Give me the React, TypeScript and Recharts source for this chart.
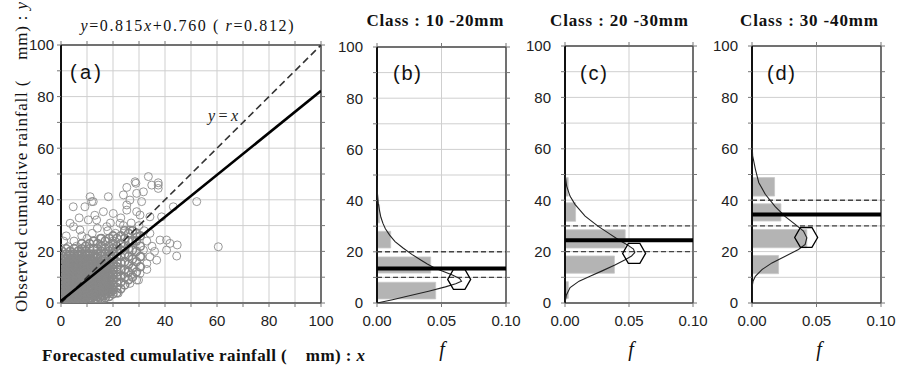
import React from 'react';
import { ScatterChart, Scatter, XAxis, YAxis, CartesianGrid, ReferenceArea } from 'recharts';

const SANS = '"Liberation Sans", Arial, Helvetica, sans-serif';
const SERIF = '"Liberation Serif", "Times New Roman", Times, serif';

// ---------- axis ticks ----------
const Y_TICKS = [0, 10, 20, 30, 40, 50, 60, 70, 80, 90, 100];
const A_X_TICKS = [0, 10, 20, 30, 40, 50, 60, 70, 80, 90, 100];
const F_TICKS = [0, 0.05, 0.1];

// ---------- panel (a) : scatter ----------
// dense core, rows of [forecast x, observed y values]
const CORE_ROWS: [number, number[]][] = [
  [0.5, [0.5, 2, 3.5, 5, 6.5, 8, 9.5, 11, 12.5, 14, 16, 18, 20]],
  [2, [0.5, 2, 3.5, 5, 6.5, 8, 9.5, 11, 12.5, 14, 15.5, 17, 19, 21]],
  [3.5, [0.5, 2, 3.5, 5, 6.5, 8, 9.5, 11, 12.5, 14, 15.5, 17, 18.5, 20]],
  [5, [0.5, 2, 3.5, 5, 6.5, 8, 9.5, 11, 12.5, 14, 15.5, 17, 19, 21]],
  [6.5, [0.5, 2, 3.5, 5, 6.5, 8, 9.5, 11, 12.5, 14, 15.5, 17, 18.5, 20]],
  [8, [0.5, 2, 3.5, 5, 6.5, 8, 9.5, 11, 12.5, 14, 15.5, 17, 19, 21, 23]],
  [9.5, [0.5, 2, 3.5, 5, 6.5, 8, 9.5, 11, 12.5, 14, 15.5, 17, 18.5, 20, 22]],
  [11, [0.5, 2, 3.5, 5, 6.5, 8, 9.5, 11, 12.5, 14, 15.5, 17, 19, 21, 23]],
  [12.5, [1, 2.5, 4, 5.5, 7, 8.5, 10, 11.5, 13, 14.5, 16, 17.5, 19, 21, 24]],
  [14, [1, 2.5, 4, 5.5, 7, 8.5, 10, 11.5, 13, 14.5, 16, 17.5, 19, 21, 23]],
  [15.5, [1.5, 3, 4.5, 6, 7.5, 9, 10.5, 12, 13.5, 15, 16.5, 18, 20, 22, 25]],
  [17, [2, 3.5, 5, 6.5, 8, 9.5, 11, 12.5, 14, 15.5, 17, 19, 21, 24]],
  [18.5, [2.5, 4, 5.5, 7, 8.5, 10, 11.5, 13, 14.5, 16, 18, 20, 22, 25]],
  [20, [3.5, 5, 7, 9, 11, 13, 15, 17, 19, 21, 23, 26]],
  [21.5, [4, 6, 8, 10, 12, 14, 16, 18, 20, 22, 25]],
  [23, [5.5, 8, 10.5, 13, 15.5, 18, 20.5, 23, 26]],
  [24.5, [7, 10, 13, 16, 19, 22, 25, 28]],
  [26, [9, 12, 15, 18, 21, 24, 27]],
  [27.5, [10, 13.5, 17, 20.5, 24, 28]],
  [29, [12, 16, 20, 24, 27]],
  [30.5, [14, 18, 22, 26]],
];
// staggered second layer in the densest part
const CORE_ROWS_2: [number, number[]][] = [
  [1.25, [1.25, 2.75, 4.25, 5.75, 7.25, 8.75, 10.25, 11.75, 13.25, 14.75, 17]],
  [2.75, [1.25, 2.75, 4.25, 5.75, 7.25, 8.75, 10.25, 11.75, 13.25, 14.75, 16.25, 18]],
  [4.25, [1.25, 2.75, 4.25, 5.75, 7.25, 8.75, 10.25, 11.75, 13.25, 14.75, 16.25, 18]],
  [5.75, [1.25, 2.75, 4.25, 5.75, 7.25, 8.75, 10.25, 11.75, 13.25, 14.75, 16.25, 18]],
  [7.25, [1.25, 2.75, 4.25, 5.75, 7.25, 8.75, 10.25, 11.75, 13.25, 14.75, 16.25, 18.5]],
  [8.75, [1.25, 2.75, 4.25, 5.75, 7.25, 8.75, 10.25, 11.75, 13.25, 14.75, 16.25, 18]],
  [10.25, [1.25, 2.75, 4.25, 5.75, 7.25, 8.75, 10.25, 11.75, 13.25, 14.75, 16.25, 18.5]],
  [11.75, [1.75, 3.25, 4.75, 6.25, 7.75, 9.25, 10.75, 12.25, 13.75, 15.25, 17]],
  [13.25, [1.75, 3.25, 4.75, 6.25, 7.75, 9.25, 10.75, 12.25, 13.75, 15.25, 17.5]],
  [14.75, [2.25, 3.75, 5.25, 6.75, 8.25, 9.75, 11.25, 12.75, 14.25, 16]],
  [16.25, [2.75, 4.25, 5.75, 7.25, 8.75, 10.25, 11.75, 13.25, 15]],
  [17.75, [3.5, 5, 6.5, 8, 9.5, 11, 12.5, 14, 16]],
  [19.25, [4.5, 6, 8, 10, 12, 14, 16, 18]],
];
// sparse outer points
const FRINGE: [number, number][] = [
  [28.5, 47], [34.9, 45.7], [37.4, 45.7], [37.4, 44.4], [29.1, 42.5], [18.2, 41.2], [11.2, 41.2],
  [4.7, 37.3], [25.3, 38], [29.1, 35.4], [52.2, 39.3], [43.2, 37.3], [3.5, 30.9], [10.5, 32.2],
  [2.8, 21.8], [44.7, 22.5], [44.5, 18.2], [40.6, 24.4], [60.5, 21.8], [29.1, 8.9], [22, 3.8],
  [33.6, 49], [31.7, 43.1], [24, 41.9], [9.2, 37.3], [11.8, 39.3], [28.8, 46.4], [37.4, 46.6],
  [25.3, 44.8], [12.4, 39.3], [26.5, 39.9], [31, 39.3], [16.3, 35.4], [20.1, 34.7], [25.3, 36],
  [30.4, 34.1], [34.2, 33.4], [38.7, 33.4], [4.8, 29.6], [7.3, 28.3], [13.7, 32.2], [17.6, 29.6],
  [22.7, 30.9], [26.5, 28.3], [29.1, 25.6], [34.2, 27], [38.1, 24.4], [41.9, 23.1], [40.6, 20.5],
  [34.2, 17.9], [36.8, 16.6], [31.7, 20.5], [33, 15.3], [30.4, 11.5], [29.8, 8.9], [26.5, 7.6],
  [18.8, 5.1], [0.9, 17.9], [5, 24], [8, 26], [12, 27], [15, 25], [18, 28], [21, 27], [24, 30],
  [27, 31], [30, 30], [32, 28], [33, 24], [35, 22], [36, 20], [31, 18], [33, 13], [28, 14],
  [27, 11], [25, 12], [6, 22], [10, 25], [14, 29], [19, 31], [23, 33], [13, 34], [7, 33], [2, 26],
  [1, 24], [16, 22], [20, 24], [26, 24],
];
const REG_LINE = [{ x: 0, y: 0.76 }, { x: 100, y: 82.26 }];
const IDENTITY_LINE = [{ x: 0, y: 0 }, { x: 100, y: 100 }];

// ---------- panels (b)-(d) : histograms [lo, hi, f] ----------
const B_BARS: [number, number, number][] = [[1.6, 8.1, 0.0455], [11.7, 18, 0.0416], [21.5, 28, 0.0106], [31.3, 38.4, 0.002]];
const C_BARS: [number, number, number][] = [[1.8, 8.3, 0.0026], [11.6, 18.3, 0.0386], [21.4, 28.5, 0.047], [31.8, 39, 0.0083], [41.6, 48.8, 0.0025]];
const D_BARS: [number, number, number][] = [[11.4, 18.5, 0.0206], [21.5, 28.6, 0.0425], [31.9, 38.6, 0.0224], [41.6, 48.8, 0.0175]];

// fitted density curves [f, y]
const B_CURVE: [number, number][] = [
  [0, 0], [0.012, 1.3], [0.025, 2.8], [0.04, 4.6], [0.053, 6.3], [0.061, 7.5], [0.0655, 8.5], [0.064, 9.6],
  [0.058, 11], [0.051, 12.4], [0.0447, 13.7], [0.039, 15.2], [0.0333, 17], [0.027, 19], [0.0202, 21.5],
  [0.014, 24], [0.0098, 26.5], [0.0065, 29], [0.0047, 31], [0.003, 33.5], [0.002, 36], [0.001, 39],
  [0.0003, 43], [0, 48],
];
const C_CURVE: [number, number][] = [
  [0, 0], [0.001, 3], [0.004, 6], [0.011, 8.5], [0.02, 10.5], [0.029, 12.5], [0.039, 14.8], [0.047, 16.8],
  [0.052, 18.3], [0.0545, 19.6], [0.0535, 21], [0.0485, 22.7], [0.0418, 24.6], [0.034, 27.2], [0.026, 29.8],
  [0.0157, 33.8], [0.0078, 38.4], [0.0039, 41.6], [0.0013, 45.5], [0, 50],
];
const D_CURVE: [number, number][] = [
  [0, 0], [0, 6], [0.0008, 8.5], [0.0026, 10.4], [0.0077, 13], [0.0155, 15.6], [0.0258, 18.2], [0.036, 20.8],
  [0.0412, 22.8], [0.0425, 25.4], [0.0399, 28], [0.0335, 30.6], [0.0258, 33.6], [0.018, 37.5], [0.0103, 42.3],
  [0.0052, 46.9], [0.0026, 52.1], [0.0005, 57.3], [0, 63],
];
// hexagon markers [f, y], observed mean, class bounds
const B_MARK: [number, number] = [0.0637, 9.2];
const C_MARK: [number, number] = [0.054, 19.3];
const D_MARK: [number, number] = [0.042, 25.5];
const B_MEAN = 13.5, C_MEAN = 24.4, D_MEAN = 34.4;
const B_CLASS: [number, number] = [10, 20];
const C_CLASS: [number, number] = [20, 30];
const D_CLASS: [number, number] = [30, 40];

// ---------- derived tables ----------
const rowsToPoints = (rows: [number, number[]][]) => rows.flatMap(([x, ys]) => ys.map((y) => ({ x, y })));
const coreData = [...rowsToPoints(CORE_ROWS), ...rowsToPoints(CORE_ROWS_2)];
const fringeData = FRINGE.map(([x, y]) => ({ x, y }));
const toFY = (arr: [number, number][]) => arr.map(([f, y]) => ({ f, y }));
const hline = (y: number) => [{ f: F_TICKS[0], y }, { f: F_TICKS[2], y }];

// ---------- shapes ----------
const NoDot = () => <g />;
const OpenCircle = (p: any) => (
  <circle cx={p.cx} cy={p.cy} r={4} fill="none" stroke="#8c8c8c" strokeWidth={0.9} />
);
const CoreCircle = (p: any) => (
  <circle cx={p.cx} cy={p.cy} r={4} fill="none" stroke="#888" strokeWidth={1.6} />
);
const Hexagon = (p: any) => {
  const r = 11.5;
  const pts = [0, 1, 2, 3, 4, 5]
    .map((i) => {
      const a = (Math.PI / 3) * i;
      return `${p.cx + r * Math.cos(a)},${p.cy + r * Math.sin(a)}`;
    })
    .join(' ');
  return <polygon points={pts} fill="none" stroke="#000" strokeWidth={1.3} />;
};

const FRAME = { stroke: '#4a4a4a', strokeWidth: 1.5 };
const LEFT_FRAME = { stroke: '#111', strokeWidth: 2 };
const TICKLINE = { stroke: '#777', strokeWidth: 1 };
const TICK_STYLE = { fill: '#222', fontSize: 15, fontFamily: SANS };
const fmt20 = (v: number) => (v % 20 === 0 ? String(v) : '');
const fmtF = (v: number) => v.toFixed(2);
const blank = () => '';

type PanelProps = {
  plotLeft: number;
  plotRight: number;
  plotTop: number;
  xKey: string;
  xDomain: [number, number];
  xTicks: number[];
  xFmt: (v: number) => string;
  yTickMargin: number;
  children?: React.ReactNode;
};

function Panel(p: PanelProps) {
  const axisW = 60, rightW = 28, bottomH = 30, plotBottom = 303, H = 374;
  const left = p.plotLeft - axisW;
  const width = p.plotRight - p.plotLeft + axisW + rightW;
  return (
    <div style={{ position: 'absolute', left, top: 0, width, height: H }}>
      <ScatterChart width={width} height={H} margin={{ top: 0, right: 0, bottom: H - plotBottom - bottomH, left: 0 }}>
        <CartesianGrid stroke="#cfcfcf" strokeWidth={1} />
        <XAxis xAxisId={0} type="number" dataKey={p.xKey} domain={p.xDomain} ticks={p.xTicks} interval={0}
          tickFormatter={p.xFmt} height={bottomH} allowDataOverflow axisLine={FRAME} tickLine={TICKLINE}
          tickSize={4} tickMargin={8} tick={TICK_STYLE} />
        <XAxis xAxisId="t" orientation="top" type="number" dataKey={p.xKey} domain={p.xDomain} ticks={p.xTicks}
          interval={0} tickFormatter={blank} height={p.plotTop} allowDataOverflow axisLine={FRAME}
          tickLine={TICKLINE} tickSize={4} tick={TICK_STYLE} />
        <YAxis yAxisId={0} type="number" dataKey="y" domain={[0, 100]} ticks={Y_TICKS} interval={0}
          tickFormatter={fmt20} width={axisW} allowDataOverflow axisLine={LEFT_FRAME} tickLine={TICKLINE}
          tickSize={4} tickMargin={p.yTickMargin} tick={TICK_STYLE} />
        <YAxis yAxisId="r" orientation="right" type="number" dataKey="y" domain={[0, 100]} ticks={Y_TICKS}
          interval={0} tickFormatter={blank} width={rightW} allowDataOverflow axisLine={FRAME}
          tickLine={TICKLINE} tickSize={4} tick={TICK_STYLE} />
        {p.children}
      </ScatterChart>
    </div>
  );
}

function DistPanel(props: {
  plotLeft: number; plotRight: number; plotTop: number;
  bars: [number, number, number][]; curve: [number, number][]; mark: [number, number];
  mean: number; cls: [number, number];
}) {
  return (
    <Panel plotLeft={props.plotLeft} plotRight={props.plotRight} plotTop={props.plotTop} xKey="f"
      xDomain={[0, 0.1]} xTicks={F_TICKS} xFmt={fmtF} yTickMargin={10}>
      {props.bars.map(([lo, hi, f], i) => (
        <ReferenceArea key={'bar' + i} x1={0} x2={f} y1={lo} y2={hi} fill="#b4b4b4" fillOpacity={1} stroke="#c8c8c8" strokeWidth={0.8} />
      ))}
      <Scatter data={hline(props.cls[0])} dataKey="y" shape={NoDot} line={{ stroke: '#444', strokeWidth: 1.4, strokeDasharray: '5 3' }} lineType="joint" isAnimationActive={false} />
      <Scatter data={hline(props.cls[1])} dataKey="y" shape={NoDot} line={{ stroke: '#444', strokeWidth: 1.4, strokeDasharray: '5 3' }} lineType="joint" isAnimationActive={false} />
      <Scatter data={toFY(props.curve)} dataKey="y" shape={NoDot} line={{ stroke: '#222', strokeWidth: 1.1 }} lineType="joint" isAnimationActive={false} />
      <Scatter data={hline(props.mean)} dataKey="y" shape={NoDot} line={{ stroke: '#000', strokeWidth: 4 }} lineType="joint" isAnimationActive={false} />
      <Scatter data={toFY([props.mark])} dataKey="y" shape={Hexagon} isAnimationActive={false} />
    </Panel>
  );
}

export default function App() {
  return (
    <div style={{ position: 'absolute', left: 0, top: 0, width: 900, height: 374, background: '#fff', overflow: 'hidden' }}>
      <Panel plotLeft={61} plotRight={321} plotTop={45} xKey="x" xDomain={[0, 100]} xTicks={A_X_TICKS}
        xFmt={fmt20} yTickMargin={3}>
        <Scatter data={fringeData} dataKey="y" shape={OpenCircle} isAnimationActive={false} />
        <Scatter data={coreData} dataKey="y" shape={CoreCircle} isAnimationActive={false} />
        <Scatter data={IDENTITY_LINE} dataKey="y" shape={NoDot} line={{ stroke: '#333', strokeWidth: 1.6, strokeDasharray: '7 4' }} lineType="joint" isAnimationActive={false} />
        <Scatter data={REG_LINE} dataKey="y" shape={NoDot} line={{ stroke: '#000', strokeWidth: 2.6 }} lineType="joint" isAnimationActive={false} />
      </Panel>
      <DistPanel plotLeft={377} plotRight={506} plotTop={47} bars={B_BARS} curve={B_CURVE} mark={B_MARK} mean={B_MEAN} cls={B_CLASS} />
      <DistPanel plotLeft={565} plotRight={693} plotTop={46} bars={C_BARS} curve={C_CURVE} mark={C_MARK} mean={C_MEAN} cls={C_CLASS} />
      <DistPanel plotLeft={752} plotRight={881} plotTop={46} bars={D_BARS} curve={D_CURVE} mark={D_MARK} mean={D_MEAN} cls={D_CLASS} />

      <svg width={900} height={374} style={{ position: 'absolute', left: 0, top: 0, pointerEvents: 'none' }}>
        <text x={187} y={31} textAnchor="middle" fontFamily={SERIF} fontSize={16} fill="#111" textLength={213} lengthAdjust="spacing">
          <tspan fontStyle="italic">y</tspan>=0.815<tspan fontStyle="italic">x</tspan>+0.760 ( <tspan fontStyle="italic">r</tspan>=0.812)
        </text>
        <text x={208} y={121} fontFamily={SERIF} fontSize={16} fill="#222" textLength={30} lengthAdjust="spacing">
          <tspan fontStyle="italic">y</tspan>=<tspan fontStyle="italic">x</tspan>
        </text>
        <text x={70} y={79} fontFamily={SANS} fontSize={20} fill="#111" textLength={31} lengthAdjust="spacing">(a)</text>
        <text x={393} y={80} fontFamily={SANS} fontSize={20} fill="#111" textLength={28} lengthAdjust="spacing">(b)</text>
        <text x={580} y={80} fontFamily={SANS} fontSize={20} fill="#111" textLength={27} lengthAdjust="spacing">(c)</text>
        <text x={767} y={80} fontFamily={SANS} fontSize={20} fill="#111" textLength={28} lengthAdjust="spacing">(d)</text>
        <text x={435} y={26} textAnchor="middle" fontFamily={SERIF} fontWeight="bold" fontSize={17} fill="#111" textLength={137} lengthAdjust="spacing">Class : 10 -20mm</text>
        <text x={619} y={26} textAnchor="middle" fontFamily={SERIF} fontWeight="bold" fontSize={17} fill="#111" textLength={138} lengthAdjust="spacing">Class : 20 -30mm</text>
        <text x={809} y={26} textAnchor="middle" fontFamily={SERIF} fontWeight="bold" fontSize={17} fill="#111" textLength={138} lengthAdjust="spacing">Class : 30 -40mm</text>
        <text x={42} y={361} fontFamily={SERIF} fontWeight="bold" fontSize={17} fill="#111" textLength={323} lengthAdjust="spacing" style={{ whiteSpace: 'pre' }}>
          Forecasted cumulative rainfall (    mm) : <tspan fontStyle="italic">x</tspan>
        </text>
        <text transform="translate(27 312) rotate(-90)" x={0} y={0} fontFamily={SERIF} fontSize={17} fill="#111" textLength={310} lengthAdjust="spacing" style={{ whiteSpace: 'pre' }}>
          Observed cumulative rainfall (    mm) : <tspan fontStyle="italic">y</tspan>
        </text>
        <text x={442} y={356} textAnchor="middle" fontFamily={SERIF} fontStyle="italic" fontSize={20} fill="#111">f</text>
        <text x={631} y={356} textAnchor="middle" fontFamily={SERIF} fontStyle="italic" fontSize={20} fill="#111">f</text>
        <text x={819} y={356} textAnchor="middle" fontFamily={SERIF} fontStyle="italic" fontSize={20} fill="#111">f</text>
      </svg>
    </div>
  );
}
